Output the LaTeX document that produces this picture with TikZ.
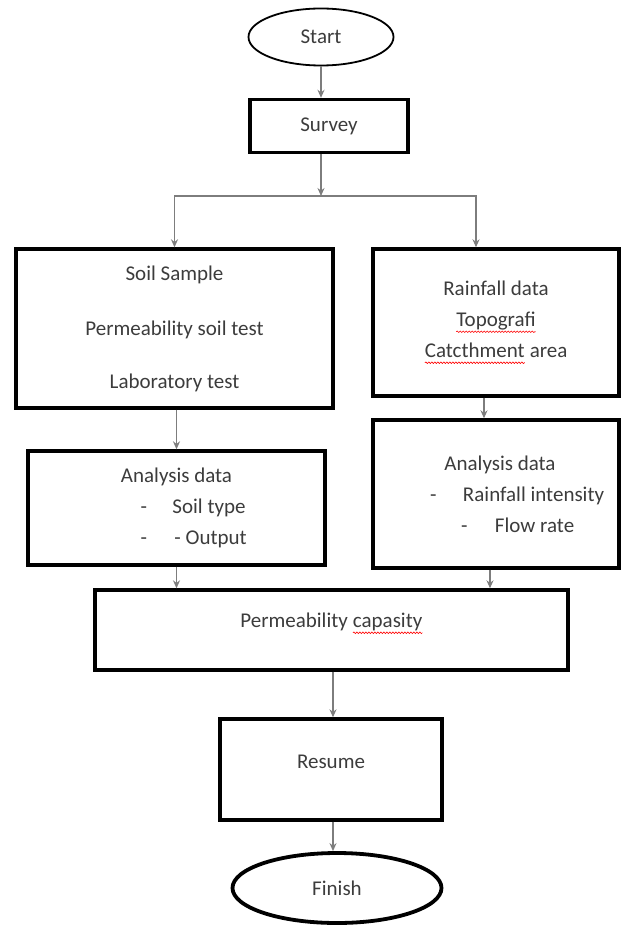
\documentclass[tikz,border=0pt]{standalone}
\usepackage{fontspec}
\setmainfont{Carlito}
\usetikzlibrary{arrows.meta,shapes.geometric,decorations.pathmorphing}

\definecolor{flowgray}{RGB}{125,125,125}
\definecolor{inkgray}{RGB}{60,60,60}

% red spell-check wave under a word
\newcommand\spell[1]{\tikz[baseline=(w.base)]{\node[shape=rectangle, draw=none, inner sep=0pt,
    outer sep=0pt, minimum width=0pt, minimum height=0pt] (w) {#1};
  \draw[red, line width=0.6pt, decorate, decoration={snake, amplitude=0.8pt, segment length=3pt}]
    ([yshift=-5pt]w.base west) -- ([yshift=-5pt]w.base east);}}
% list line: dash and item, offsets from the box centre
\newcommand\dline[3]{\makebox[0pt][l]{\hspace*{#1pt}-}\makebox[0pt][l]{\hspace*{#2pt}#3}}

\begin{document}
\begin{tikzpicture}[x=1pt, y=-1pt, >={Stealth[length=8pt,width=7pt]},
  box/.style={draw, line width=3.4pt, text=inkgray, align=center, inner sep=0pt,
    font=\fontsize{21}{31}\selectfont},
  term/.style={ellipse, draw, text=inkgray, inner sep=0pt,
    font=\fontsize{21}{31}\selectfont},
  flow/.style={->, draw=flowgray, line width=1.3pt}]
  \useasboundingbox (0,0) rectangle (622,925);

  \node[term, line width=1.8pt, minimum width=145, minimum height=57] (start) at (321,37) {Start};
  \node[box, minimum width=158, minimum height=53] (survey) at (329,126) {Survey};

  \node[box, minimum width=317, minimum height=159] (soil) at (174.5,328.5)
    {Soil Sample\\[24pt]Permeability soil test\\[22pt]Laboratory test};
  \node[box, minimum width=246, minimum height=147] (rain) at (496,322.5)
    {Rainfall data\\ \spell{Topografi}\\ \spell{Catcthment} area};

  \node[box, minimum width=297, minimum height=114] (anaL) at (176.5,508)
    {Analysis data\\ \dline{-36}{-4}{Soil type}\\ \dline{-36}{-2}{- Output}};
  \node[box, minimum width=246, minimum height=148] (anaR) at (496,494)
    {\hspace*{8pt}Analysis data\\ \dline{-66}{-33}{Rainfall intensity}\\ \dline{-35}{-1}{Flow rate}};

  \node[box, minimum width=473, minimum height=80] (perm) at (331.5,630)
    {Permeability \spell{capasity}\\[-12pt]\mbox{}};
  \node[box, minimum width=222, minimum height=101] (resume) at (331,769.5)
    {Resume\\[-16pt]\mbox{}};
  \node[term, line width=3.8pt, minimum width=209, minimum height=70] (finish) at (337,888) {Finish};

  \coordinate (split) at (321,196);
  \coordinate (rtop) at (476,196);

  \draw[flow] (start.south) -- (start.south |- survey.north);
  \draw[flow] (survey.south -| split) -- (split);
  \draw[flow] (split) -| (soil.north);
  \draw[flow] (split) -- (rtop) -- (rtop |- rain.north);
  \draw[flow] (anaL.north |- soil.south) -- (anaL.north);
  \draw[flow] ([xshift=-12pt]rain.south) -- ([xshift=-12pt]rain.south |- anaR.north);
  \draw[flow] (anaL.south) -- (anaL.south |- perm.north);
  \draw[flow] ([xshift=-6pt]anaR.south) -- ([xshift=-6pt]anaR.south |- perm.north);
  \draw[flow] ([xshift=1.5pt]perm.south) -- ([xshift=1.5pt]perm.south |- resume.north);
  \draw[flow] ([xshift=2pt]resume.south) -- ([xshift=2pt]resume.south |- finish.north);
\end{tikzpicture}
\end{document}
